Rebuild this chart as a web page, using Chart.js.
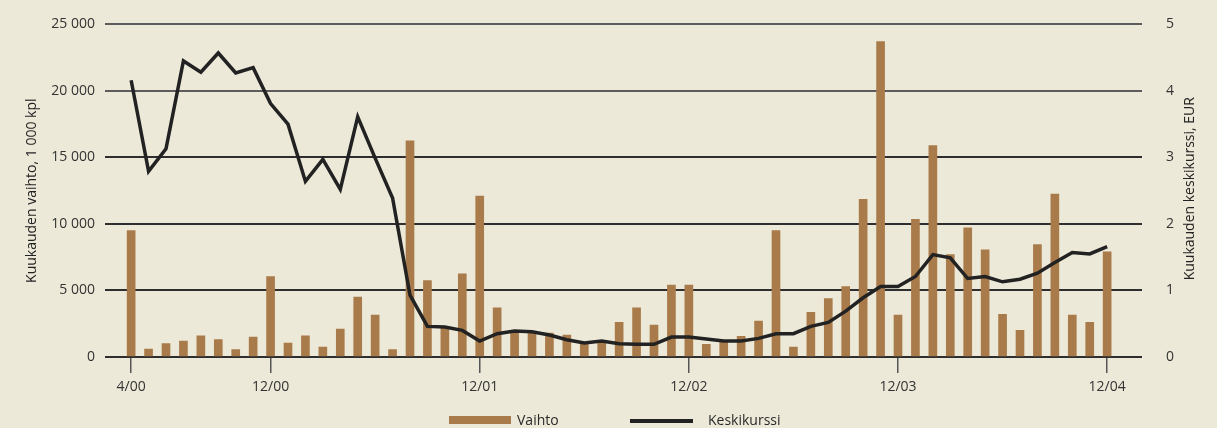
<!DOCTYPE html>
<html>
<head>
<meta charset="utf-8">
<script src="https://cdn.jsdelivr.net/npm/chart.js@4/dist/chart.umd.min.js"></script>
<style>
  html, body { margin: 0; padding: 0; background: #ECE9D8; }
  #wrap { position: relative; width: 1217px; height: 428px; overflow: hidden; }
  #chart { position: absolute; left: 0; top: 0; }
  .lg { position: absolute; font: 14px "Open Sans", sans-serif; color: #2a2a2a; line-height: 16px; }
  .sw { position: absolute; }
</style>
</head>
<body>
<div id="wrap">
  <canvas id="chart" width="1217" height="428"></canvas>
  <div class="sw" style="left:449px;top:416px;width:62px;height:8px;background:#A97B4A"></div>
  <div class="lg" style="left:517px;top:412px">Vaihto</div>
  <div class="sw" style="left:630px;top:419px;width:63px;height:4px;background:#222"></div>
  <div class="lg" style="left:708px;top:412px">Keskikurssi</div>
</div>
<script>
// months 4/00 .. 12/04
const months = [
  '4/00', '5/00', '6/00', '7/00', '8/00', '9/00', '10/00', '11/00', '12/00',
  '1/01', '2/01', '3/01', '4/01', '5/01', '6/01', '7/01', '8/01', '9/01', '10/01', '11/01', '12/01',
  '1/02', '2/02', '3/02', '4/02', '5/02', '6/02', '7/02', '8/02', '9/02', '10/02', '11/02', '12/02',
  '1/03', '2/03', '3/03', '4/03', '5/03', '6/03', '7/03', '8/03', '9/03', '10/03', '11/03', '12/03',
  '1/04', '2/04', '3/04', '4/04', '5/04', '6/04', '7/04', '8/04', '9/04', '10/04', '11/04', '12/04'
];

// monthly turnover, 1 000 kpl
const vaihto = [
  9500, 600, 1000, 1200, 1600, 1300, 550, 1500,
  6050, 1050, 1600, 750, 2100, 4500, 3150, 550, 16250, 5750, 2200, 6250,
  12100, 3700, 2000, 1800, 1800, 1650, 1100, 1200, 2600, 3700, 2400, 5400,
  5400, 950, 1100, 1550, 2700, 9500, 750, 3350, 4400, 5300, 11850, 23700,
  3150, 10350, 15900, 7700, 9700, 8050, 3200, 2000, 8450, 12250, 3150, 2600,
  7900
];

// monthly average price, EUR
const keskikurssi = [
  4.16, 2.79, 3.13, 4.45, 4.28, 4.57, 4.27, 4.35,
  3.81, 3.50, 2.64, 2.97, 2.52, 3.61, 2.99, 2.39, 0.93, 0.46, 0.45, 0.40,
  0.24, 0.35, 0.39, 0.38, 0.33, 0.26, 0.21, 0.24, 0.20, 0.19, 0.19, 0.30,
  0.30, 0.27, 0.24, 0.24, 0.28, 0.35, 0.35, 0.46, 0.52, 0.69, 0.89, 1.06,
  1.06, 1.21, 1.54, 1.49, 1.18, 1.21, 1.13, 1.17, 1.26, 1.42, 1.57, 1.55,
  1.66
];

const tickLabels = ['4/00', '12/00', '12/01', '12/02', '12/03', '12/04'];
const tickIdx = tickLabels.map(l => months.indexOf(l));

const font = { family: '"Open Sans", sans-serif', size: 14 };
const txt = '#333';

function spaced(v) {
  return String(v).replace(/\B(?=(\d{3})+(?!\d))/g, ' ');
}

// right axis title reads bottom-to-top like the left one
const rightTitle = {
  id: 'rightTitle',
  afterDraw(chart) {
    const s = chart.scales.yR;
    const ctx = chart.ctx;
    ctx.save();
    ctx.translate(s.right - 27, (chart.chartArea.top + chart.chartArea.bottom) / 2 - 2);
    ctx.rotate(-Math.PI / 2);
    ctx.font = '14px "Open Sans", sans-serif';
    ctx.fillStyle = '#222';
    ctx.textAlign = 'center';
    ctx.textBaseline = 'middle';
    ctx.fillText('Kuukauden keskikurssi, EUR', 0, 0);
    ctx.restore();
  }
};

new Chart(document.getElementById('chart'), {
  data: {
    datasets: [
      {
        type: 'line',
        label: 'Keskikurssi',
        data: keskikurssi.map((v, i) => ({ x: i, y: v })),
        yAxisID: 'yR',
        borderColor: '#222',
        borderWidth: 3.5,
        pointRadius: 0,
        tension: 0,
        order: 0
      },
      {
        type: 'bar',
        label: 'Vaihto',
        data: vaihto.map((v, i) => ({ x: i, y: v })),
        yAxisID: 'yL',
        backgroundColor: '#A97B4A',
        barThickness: 8,
        order: 1
      }
    ]
  },
  plugins: [rightTitle],
  options: {
    responsive: false,
    animation: false,
    layout: { padding: { top: 22 } },
    plugins: { legend: { display: false }, tooltip: { enabled: false } },
    scales: {
      x: {
        type: 'linear',
        min: -1.5,
        max: 58,
        offset: false,
        bounds: 'data',
        afterBuildTicks: s => { s.ticks = tickIdx.map(v => ({ value: v })); },
        afterFit: s => { s.height = 71; },
        ticks: {
          callback: v => months[v],
          autoSkip: false,
          maxRotation: 0,
          padding: 6,
          font: font,
          color: txt
        },
        grid: { offset: false, drawOnChartArea: false, drawTicks: true, tickLength: 16, color: '#555', lineWidth: 1.5 },
        border: { display: false }
      },
      yL: {
        position: 'left',
        min: 0,
        max: 25000,
        afterFit: s => { s.width = 105; },
        ticks: { stepSize: 5000, padding: 10, font: font, color: txt, callback: v => spaced(v) },
        grid: {
          drawTicks: false,
          lineWidth: 2,
          color: c => c.tick && c.tick.value >= 20000 ? '#5c5c5c' : '#2e2e2e'
        },
        border: { display: false },
        title: { display: true, text: 'Kuukauden vaihto, 1 000 kpl', font: font, color: '#222', padding: { top: 24, bottom: 0 } }
      },
      yR: {
        position: 'right',
        min: 0,
        max: 5,
        afterFit: s => { s.width = 75; },
        ticks: { stepSize: 1, padding: 16, font: font, color: txt },
        grid: { display: false },
        border: { display: false }
      }
    }
  }
});
</script>
</body>
</html>
